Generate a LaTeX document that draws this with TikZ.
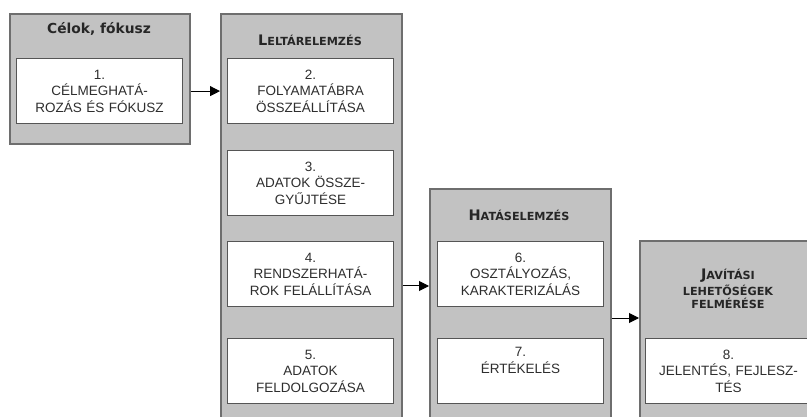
\documentclass[tikz,border=0pt]{standalone}
\usepackage{fontspec}
\setmainfont{Liberation Sans}
\newfontfamily\titlefont{DejaVu Sans}
\usetikzlibrary{arrows.meta}
\definecolor{boxfill}{HTML}{C2C2C2}
\definecolor{boxline}{HTML}{6E6E6E}
\definecolor{inline}{HTML}{555555}
\definecolor{txt}{HTML}{2E2E2E}
\newcommand\scap[2]{{\fontsize{14.5}{15}\selectfont #1}{\fontsize{11.2}{15}\selectfont #2}}
\newcommand\scsmall{\fontsize{11.2}{15}\selectfont}
\begin{document}
\begin{tikzpicture}[x=1pt,y=-1pt,
  outerbox/.style={draw=boxline,fill=boxfill,line width=1.8pt,rectangle,anchor=north west,inner sep=0pt},
  innerbox/.style={draw=inline,fill=white,line width=1.2pt,rectangle,anchor=north west,inner sep=0pt,
     minimum height=65pt,text width=#1,align=center,text=txt,font=\fontsize{13.5}{16.5}\selectfont},
  innerbox/.default=166pt,
  title/.style={font=\titlefont\bfseries,text=black!85,align=center,inner sep=0pt},
  arr/.style={draw=black,line width=1pt,-{Triangle[length=10pt,width=10pt]}}]
\useasboundingbox (0,0) rectangle (807,417);
\fill[white] (0,0) rectangle (807,417);
\clip (0,0) rectangle (807,417);
% outer boxes
\node[outerbox,minimum width=180pt,minimum height=130pt] (b1) at (9,13) {};
\node[outerbox,minimum width=181pt,minimum height=420pt] (b2) at (220,13) {};
\node[outerbox,minimum width=181pt,minimum height=250pt] (b3) at (429,188) {};
\node[outerbox,minimum width=180pt,minimum height=200pt] (b4) at (639,240) {};
% titles
\node[title,font=\titlefont\bfseries\fontsize{13.8}{15}\selectfont] (t1) at (99,29) {Célok, fókusz};
\node[title] (t2) at (310,40) {\scap{L}{ELTÁRELEMZÉS}};
\node[title] (t3) at (519,215) {\scap{H}{ATÁSELEMZÉS}};
\node[title,anchor=north] (t4) at (728,269) {\scap{J}{AVÍTÁSI}\\[1pt]{\scsmall LEHETŐSÉGEK}\\[1pt]{\scsmall FELMÉRÉSE}};
% inner boxes
\node[innerbox] (i1) at (16,58) {1.\\CÉLMEGHATÁ-\\ROZÁS ÉS FÓKUSZ};
\node[innerbox] (i2) at (227,58) {2.\\FOLYAMATÁBRA\\ÖSSZEÁLLÍTÁSA};
\node[innerbox] (i3) at (227,150) {3.\\ADATOK ÖSSZE-\\GYŰJTÉSE};
\node[innerbox] (i4) at (227,241) {4.\\RENDSZERHATÁ-\\ROK FELÁLLÍTÁSA};
\node[innerbox] (i5) at (227,338) {5.\\ADATOK\\FELDOLGOZÁSA};
\node[innerbox] (i6) at (437,241) {6.\\OSZTÁLYOZÁS,\\KARAKTERIZÁLÁS};
\node[innerbox] (i7) at (437,338) {7.\\ÉRTÉKELÉS\\\strut};
\node[innerbox] (i8) at (645,338) {8.\\JELENTÉS, FEJLESZ-\\TÉS};
% connectors
\coordinate (a2) at (0,286);
\coordinate (a3) at (0,318);
\draw[arr] (b1.east |- i1.east) -- (b2.west |- i1.east);
\draw[arr] (b2.east |- a2) -- (b3.west |- a2);
\draw[arr] (b3.east |- a3) -- (b4.west |- a3);
\end{tikzpicture}
\end{document}
